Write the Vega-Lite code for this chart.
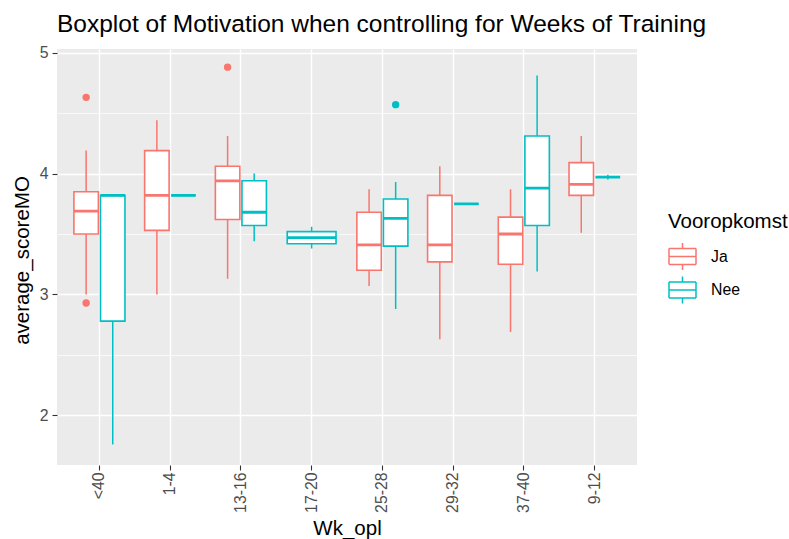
{
  "$schema": "https://vega.github.io/schema/vega-lite/v6.json",
  "width": 580,
  "height": 416,
  "autosize": {"type": "none"},
  "padding": {"left": 57, "top": 49, "right": 152, "bottom": 74},
  "background": "white",
  "title": {
    "text": "Boxplot of Motivation when controlling for Weeks of Training",
    "anchor": "start",
    "frame": "group",
    "font": "Liberation Sans",
    "fontSize": 24.5,
    "fontWeight": "normal",
    "color": "black",
    "baseline": "alphabetic",
    "offset": 15,
    "dy": 27
  },
  "config": {
    "view": {"fill": "#EBEBEB", "stroke": null},
    "axis": {
      "labelFont": "Liberation Sans",
      "titleFont": "Liberation Sans",
      "labelFontSize": 15.8,
      "labelColor": "#4D4D4D",
      "titleFontSize": 20.5,
      "titleFontWeight": "normal",
      "titleColor": "black",
      "tickColor": "#333333",
      "tickSize": 5,
      "tickWidth": 1.1,
      "domain": false,
      "grid": true,
      "gridColor": "white"
    }
  },
  "datasets": {
    "boxes": [
      {"Wk_opl": "<40", "Vooropkomst": "Ja", "lower": 3.00, "q1": 3.50, "median": 3.69, "q3": 3.85, "upper": 4.19},
      {"Wk_opl": "<40", "Vooropkomst": "Nee", "lower": 1.76, "q1": 2.78, "median": 3.82, "q3": 3.82, "upper": 3.82},
      {"Wk_opl": "1-4", "Vooropkomst": "Ja", "lower": 3.00, "q1": 3.53, "median": 3.82, "q3": 4.19, "upper": 4.44},
      {"Wk_opl": "1-4", "Vooropkomst": "Nee", "lower": 3.82, "q1": 3.82, "median": 3.82, "q3": 3.82, "upper": 3.82},
      {"Wk_opl": "13-16", "Vooropkomst": "Ja", "lower": 3.13, "q1": 3.62, "median": 3.94, "q3": 4.06, "upper": 4.31},
      {"Wk_opl": "13-16", "Vooropkomst": "Nee", "lower": 3.44, "q1": 3.57, "median": 3.68, "q3": 3.94, "upper": 4.00},
      {"Wk_opl": "17-20", "Vooropkomst": "Nee", "lower": 3.38, "q1": 3.42, "median": 3.47, "q3": 3.52, "upper": 3.56},
      {"Wk_opl": "25-28", "Vooropkomst": "Ja", "lower": 3.07, "q1": 3.20, "median": 3.41, "q3": 3.68, "upper": 3.87},
      {"Wk_opl": "25-28", "Vooropkomst": "Nee", "lower": 2.88, "q1": 3.40, "median": 3.63, "q3": 3.79, "upper": 3.93},
      {"Wk_opl": "29-32", "Vooropkomst": "Ja", "lower": 2.63, "q1": 3.27, "median": 3.41, "q3": 3.82, "upper": 4.06},
      {"Wk_opl": "29-32", "Vooropkomst": "Nee", "lower": 3.75, "q1": 3.75, "median": 3.75, "q3": 3.75, "upper": 3.75},
      {"Wk_opl": "37-40", "Vooropkomst": "Ja", "lower": 2.69, "q1": 3.25, "median": 3.50, "q3": 3.64, "upper": 3.87},
      {"Wk_opl": "37-40", "Vooropkomst": "Nee", "lower": 3.19, "q1": 3.57, "median": 3.88, "q3": 4.31, "upper": 4.81},
      {"Wk_opl": "9-12", "Vooropkomst": "Ja", "lower": 3.51, "q1": 3.82, "median": 3.91, "q3": 4.09, "upper": 4.31},
      {"Wk_opl": "9-12", "Vooropkomst": "Nee", "lower": 3.95, "q1": 3.97, "median": 3.97, "q3": 3.97, "upper": 3.99}
    ],
    "outliers": [
      {"Wk_opl": "<40", "Vooropkomst": "Ja", "group": "Ja", "value": 4.63},
      {"Wk_opl": "<40", "Vooropkomst": "Ja", "group": "Ja", "value": 2.93},
      {"Wk_opl": "13-16", "Vooropkomst": "Ja", "group": "Ja", "value": 4.88},
      {"Wk_opl": "25-28", "Vooropkomst": "Nee", "group": "Nee", "value": 4.57}
    ]
  },
  "layer": [
    {
      "data": {"name": "boxes"},
      "transform": [{"joinaggregate": [{"op": "count", "as": "n"}], "groupby": ["Wk_opl"]}, {"filter": "datum.n == 2"}],
      "mark": {"type": "rule", "strokeWidth": 1.5},
      "encoding": {
        "x": {
          "field": "Wk_opl",
          "type": "nominal",
          "title": "Wk_opl",
          "scale": {"domain": ["<40", "1-4", "13-16", "17-20", "25-28", "29-32", "37-40", "9-12"], "paddingInner": 0, "paddingOuter": 0.1},
          "axis": {"labelAngle": 270, "labelPadding": 2, "gridWidth": 1.4, "titleY": 69, "titleBaseline": "alphabetic"}
        },
        "stroke": {
          "field": "Vooropkomst",
          "type": "nominal",
          "scale": {"domain": ["Ja", "Nee"], "range": ["#F8766D", "#00BFC4"]},
          "legend": {
            "title": "Vooropkomst",
            "orient": "none",
            "legendX": 611,
            "legendY": 163,
            "padding": 0,
            "titleFont": "Liberation Sans",
            "titleFontSize": 20.5,
            "titleFontWeight": "normal",
            "titleColor": "black",
            "titlePadding": 9.5,
            "labelFont": "Liberation Sans",
            "labelFontSize": 15.8,
            "labelColor": "black",
            "labelOffset": 14,
            "rowPadding": 0.5,
            "symbolType": "M-1,-0.6L1,-0.6 M1,-0.6L1,0.6 M1,0.6L-1,0.6 M-1,0.6L-1,-0.6 M-1,0L1,0 M0,-0.6L0,-1 M0,0.6L0,1",
            "symbolSize": 729,
            "symbolStrokeWidth": 1.5,
            "symbolFillColor": "white"
          }
        },
        "xOffset": {"field": "Vooropkomst", "type": "nominal", "scale": {"domain": ["Ja", "Nee"], "paddingInner": 0.08, "paddingOuter": 0.37}},
        "y": {
          "field": "lower", "type": "quantitative", "title": "average_scoreMO",
          "scale": {"domain": [1.59, 5.03], "nice": false, "zero": false},
          "axis": {
            "values": [2, 2.5, 3, 3.5, 4, 4.5, 5],
            "labelExpr": "datum.value % 1 === 0 ? format(datum.value, 'd') : ''",
            "labelPadding": 4,
            "tickOpacity": {"condition": {"test": "datum.value % 1 === 0", "value": 1}, "value": 0},
            "gridWidth": {"condition": {"test": "datum.value % 1 === 0", "value": 1.4}, "value": 0.7},
            "titleAngle": 270,
            "titleX": -28.5,
            "titleY": 211,
            "titleAlign": "center",
            "titleBaseline": "alphabetic"
          }
        },
        "y2": {"field": "upper"}
      }
    },
    {
      "data": {"name": "boxes"},
      "transform": [{"joinaggregate": [{"op": "count", "as": "n"}], "groupby": ["Wk_opl"]}, {"filter": "datum.n == 2"}],
      "mark": {"type": "bar", "fill": "white", "strokeWidth": 1.6},
      "encoding": {
        "x": {"field": "Wk_opl", "type": "nominal", "title": "Wk_opl"},
        "stroke": {"field": "Vooropkomst", "type": "nominal"},
        "xOffset": {"field": "Vooropkomst", "type": "nominal"},
        "y": {"field": "q1", "type": "quantitative", "title": "average_scoreMO"},
        "y2": {"field": "q3"}
      }
    },
    {
      "data": {"name": "boxes"},
      "transform": [{"joinaggregate": [{"op": "count", "as": "n"}], "groupby": ["Wk_opl"]}, {"filter": "datum.n == 2"}],
      "mark": {"type": "bar", "fill": "white", "strokeWidth": 2.8},
      "encoding": {
        "x": {"field": "Wk_opl", "type": "nominal", "title": "Wk_opl"},
        "stroke": {"field": "Vooropkomst", "type": "nominal"},
        "xOffset": {"field": "Vooropkomst", "type": "nominal"},
        "y": {"field": "median", "type": "quantitative", "title": "average_scoreMO"},
        "y2": {"field": "median"}
      }
    },
    {
      "data": {"name": "boxes"},
      "transform": [{"joinaggregate": [{"op": "count", "as": "n"}], "groupby": ["Wk_opl"]}, {"filter": "datum.n == 1"}],
      "mark": {"type": "rule", "strokeWidth": 1.5},
      "encoding": {
        "x": {"field": "Wk_opl", "type": "nominal", "title": "Wk_opl"},
        "stroke": {"field": "Vooropkomst", "type": "nominal"},
        "y": {"field": "lower", "type": "quantitative", "title": "average_scoreMO"},
        "y2": {"field": "upper"}
      }
    },
    {
      "data": {"name": "boxes"},
      "transform": [{"joinaggregate": [{"op": "count", "as": "n"}], "groupby": ["Wk_opl"]}, {"filter": "datum.n == 1"}],
      "mark": {"type": "bar", "fill": "white", "strokeWidth": 1.6, "width": {"band": 0.69}},
      "encoding": {
        "x": {"field": "Wk_opl", "type": "nominal", "title": "Wk_opl"},
        "stroke": {"field": "Vooropkomst", "type": "nominal"},
        "y": {"field": "q1", "type": "quantitative", "title": "average_scoreMO"},
        "y2": {"field": "q3"}
      }
    },
    {
      "data": {"name": "boxes"},
      "transform": [{"joinaggregate": [{"op": "count", "as": "n"}], "groupby": ["Wk_opl"]}, {"filter": "datum.n == 1"}],
      "mark": {"type": "bar", "fill": "white", "strokeWidth": 2.8, "width": {"band": 0.69}},
      "encoding": {
        "x": {"field": "Wk_opl", "type": "nominal", "title": "Wk_opl"},
        "stroke": {"field": "Vooropkomst", "type": "nominal"},
        "y": {"field": "median", "type": "quantitative", "title": "average_scoreMO"},
        "y2": {"field": "median"}
      }
    },
    {
      "data": {"name": "outliers"},
      "mark": {"type": "circle", "size": 55, "opacity": 1, "strokeWidth": 0},
      "encoding": {
        "x": {"field": "Wk_opl", "type": "nominal", "title": "Wk_opl"},
        "xOffset": {"field": "Vooropkomst", "type": "nominal"},
        "y": {"field": "value", "type": "quantitative", "title": "average_scoreMO"},
        "fill": {"field": "group", "type": "nominal", "scale": {"domain": ["Ja", "Nee"], "range": ["#F8766D", "#00BFC4"]}, "legend": null}
      }
    }
  ]
}
